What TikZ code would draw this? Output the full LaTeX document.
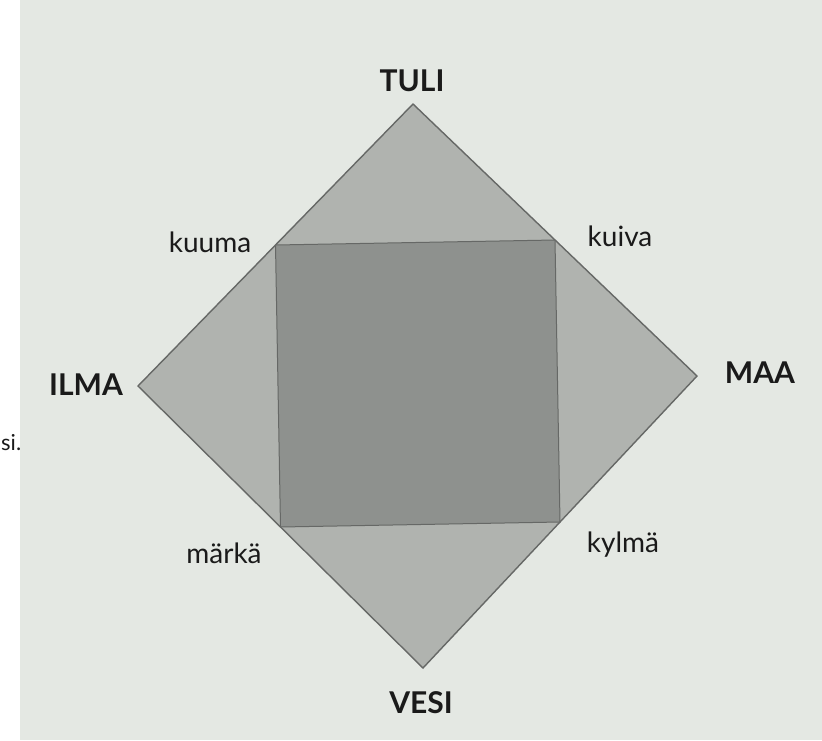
\documentclass[tikz,border=0pt]{standalone}
\usepackage{fontspec}
\setmainfont{Lato}
\usetikzlibrary{calc}
\definecolor{elempage}{HTML}{E4E8E3}
\definecolor{elemdiamond}{HTML}{B0B3AF}
\definecolor{elemsquare}{HTML}{8E918E}
\definecolor{elemedge}{HTML}{666866}
\definecolor{elemink}{HTML}{1A1A1A}

\begin{document}
\begin{tikzpicture}[
    x=1pt,y=-1pt,
    element/.style={font=\fontsize{30}{33}\selectfont\bfseries,text=elemink,inner sep=0pt},
    quality/.style={font=\fontsize{28}{31}\selectfont,text=elemink,inner sep=0pt},
    edge/.style={draw=elemedge,line join=miter}
  ]
    \useasboundingbox (0,0) rectangle (822,740);
    \fill[white] (0,0) rectangle (822,740);
    \fill[elempage] (20,0) rectangle (822,740);
    % diamond corners
    \coordinate (top) at (413,104);
    \coordinate (right) at (697,376);
    \coordinate (bottom) at (423,668);
    \coordinate (left) at (138,386);
    \filldraw[edge,fill=elemdiamond,line width=1.4pt] (top) -- (right) -- (bottom) -- (left) -- cycle;
    % inner square on the edge midpoints
    \coordinate (hot) at ($(top)!0.5!(left)$);
    \coordinate (dry) at ($(top)!0.5!(right)$);
    \coordinate (cold) at ($(bottom)!0.5!(right)$);
    \coordinate (wet) at ($(bottom)!0.5!(left)$);
    \filldraw[edge,fill=elemsquare,line width=1pt] (hot) -- (dry) -- (cold) -- (wet) -- cycle;
    \node[element] (tuli) at (412,81) {TULI};
    \node[element] (vesi) at (421,703) {VESI};
    \node[element] (ilma) at (86,385) {ILMA};
    \node[element] (maa) at (760,373) {MAA};
    \node[quality] (kuuma) at (210,242) {kuuma};
    \node[quality] (kuiva) at (620,236) {kuiva};
    \node[quality] (marka) at (224,553) {märkä};
    \node[quality] (kylma) at (623,545) {kylmä};
    \node[quality,font=\fontsize{22}{24}\selectfont,anchor=west] (si) at (1,443) {si.};
\end{tikzpicture}
\end{document}
